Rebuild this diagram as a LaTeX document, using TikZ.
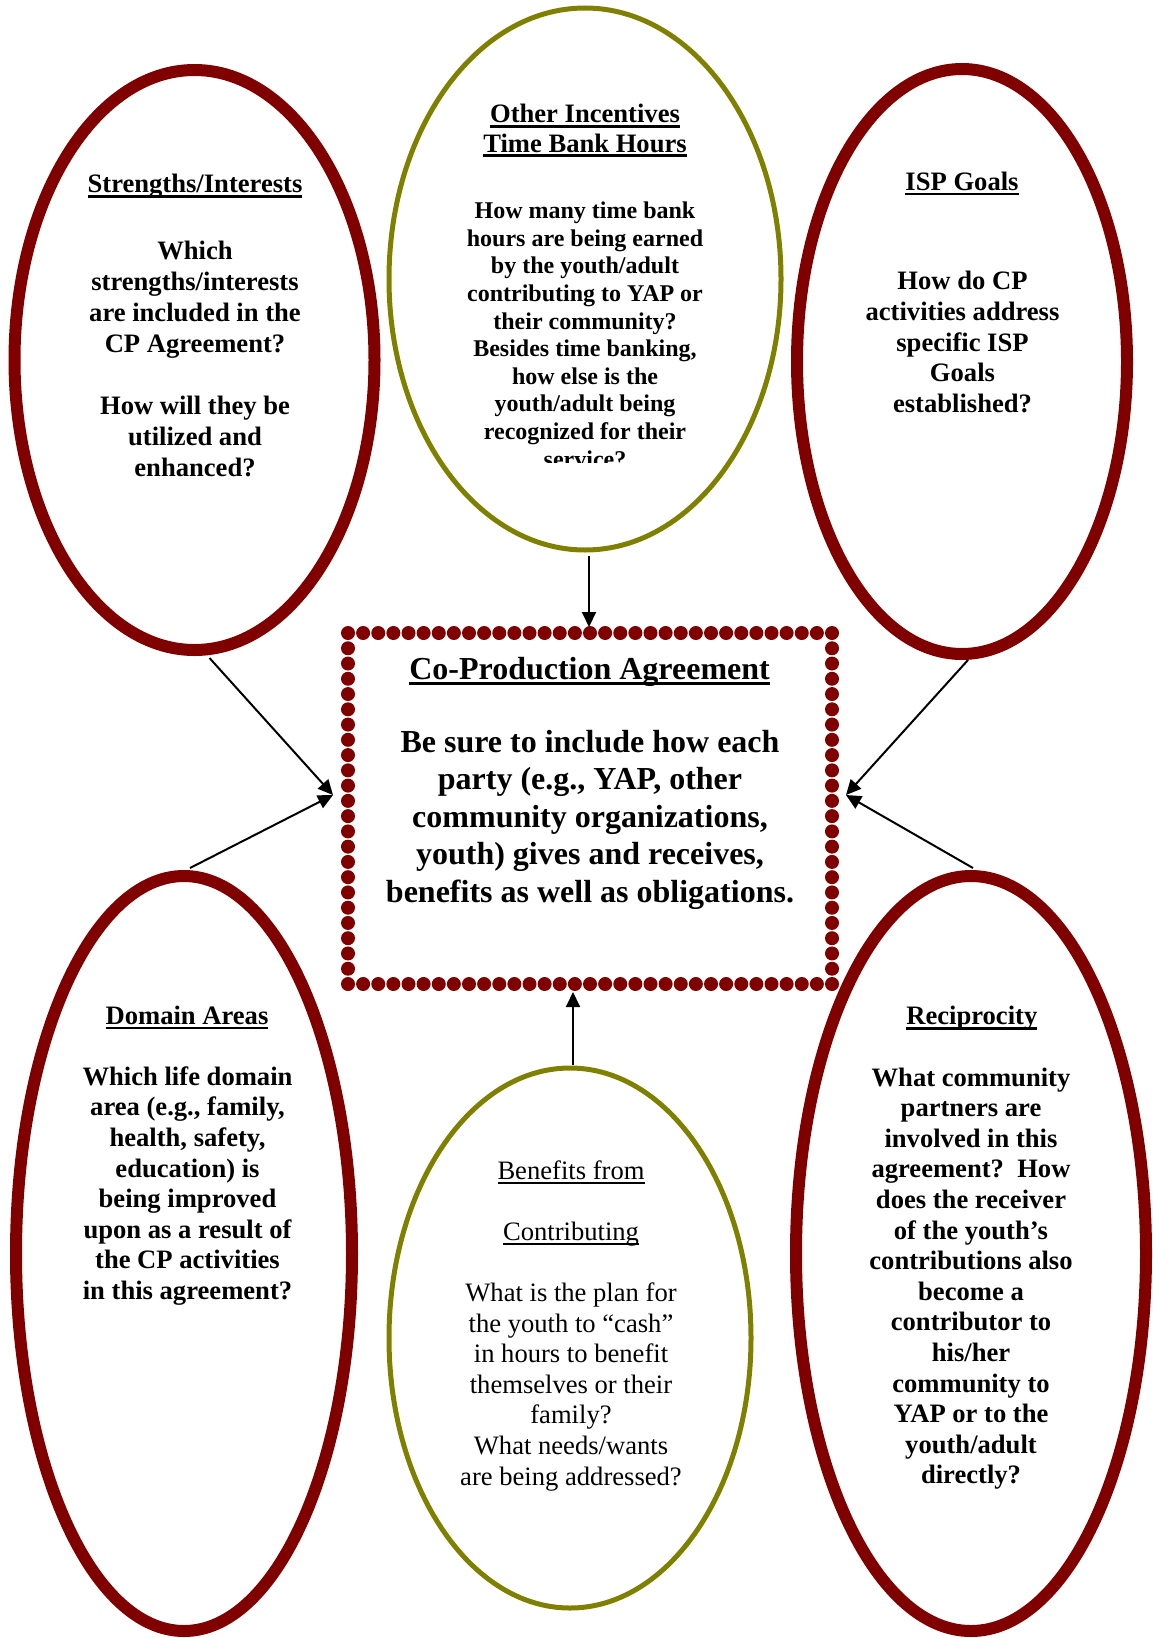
\documentclass[tikz,border=0pt]{standalone}
\usepackage{fontspec}
\setmainfont{Liberation Serif}
\usetikzlibrary{shapes.geometric,arrows.meta,calc}
\definecolor{maroon}{HTML}{800000}
\definecolor{olivegreen}{HTML}{808000}
\newsavebox\ulinebox
% underlines at a fixed depth below the baseline
\newcommand\ulbold[1]{\sbox\ulinebox{#1}\rlap{\rule[-0.19em]{\wd\ulinebox}{0.1em}}\usebox\ulinebox}
\newcommand\ulthin[1]{\sbox\ulinebox{#1}\rlap{\rule[-0.17em]{\wd\ulinebox}{0.06em}}\usebox\ulinebox}
\newcommand\mainsize{\fontsize{13.3pt}{15.3pt}\selectfont}
\newcommand\widesize{\fontsize{13.3pt}{15.45pt}\selectfont}
\newcommand\smallsize{\fontsize{12pt}{13.8pt}\selectfont}
\newcommand\bigsize{\fontsize{16pt}{18.75pt}\selectfont}
\tikzset{
  redring/.style={ellipse, draw=maroon, line width=6pt, inner sep=0pt, outer sep=0pt},
  olivering/.style={ellipse, draw=olivegreen, line width=2.5pt, inner sep=0pt, outer sep=0pt},
  textblock/.style={inner sep=0pt, outer sep=0pt, align=center, anchor=north},
  heading/.style={inner sep=0pt, outer sep=0pt, anchor=base, font=\bfseries\mainsize},
  link/.style={line width=1pt, -{Triangle[length=7.5pt,width=7pt]}},
  bead/.style={fill=maroon},
}
\begin{document}
\begin{tikzpicture}[x=0.5pt, y=-0.5pt]
\useasboundingbox (0,0) rectangle (1152,1638);

% outer rings
\node[redring, minimum width=180pt, minimum height=290pt] (s1) at (194.5,360) {};
\node[olivering, minimum width=196pt, minimum height=271pt] (oi) at (585,279) {};
\node[redring, minimum width=165pt, minimum height=292.5pt] (isp) at (962,361.5) {};
\node[redring, minimum width=168pt, minimum height=377.5pt] (dom) at (184,1253.5) {};
\node[olivering, minimum width=181pt, minimum height=270pt] (ben) at (570,1338) {};
\node[redring, minimum width=175pt, minimum height=377.5pt] (rec) at (971,1253.5) {};

% central agreement box with a beaded border
\node[minimum width=249pt, minimum height=182.5pt, inner sep=0pt, outer sep=0pt] (cpa) at (590,808.5) {};
\coordinate (dnw) at ($(cpa.north west)+(7,7)$);
\coordinate (dne) at ($(cpa.north east)+(-7,7)$);
\coordinate (dsw) at ($(cpa.south west)+(7,-7)$);
\coordinate (dse) at ($(cpa.south east)+(-7,-7)$);
\foreach \i in {0,...,32} {
  \fill[bead] ($(dnw)!\i/32!(dne)$) circle[radius=3.5pt];
  \fill[bead] ($(dsw)!\i/32!(dse)$) circle[radius=3.5pt];
}
\foreach \i in {1,...,22} {
  \fill[bead] ($(dnw)!\i/23!(dsw)$) circle[radius=3.5pt];
  \fill[bead] ($(dne)!\i/23!(dse)$) circle[radius=3.5pt];
}

% texts
\node[heading] (s1h) at (195,192.7) {\ulbold{Strengths/Interests}};
\node[textblock, font=\bfseries\widesize] (s1t) at (195,238.2) {\strut Which\\ strengths/interests\\ are included in the\\ CP Agreement?\\ \strut\\ How will they be\\ utilized and\\ enhanced?};

\node[textblock, font=\bfseries\fontsize{13.3pt}{14.65pt}\selectfont] (oih) at (585,102.2) {\strut\ulbold{Other Incentives}\\ \ulbold{Time Bank Hours}};
\begin{scope}
  \clip (380,0) rectangle (800,462);
  \node[textblock, font=\bfseries\smallsize] (oit) at (585,199.4) {\strut How many time bank\\ hours are being earned\\ by the youth/adult\\ contributing to YAP or\\ their community?\\ Besides time banking,\\ how else is the\\ youth/adult being\\ recognized for their\\ service?};
\end{scope}

\node[heading] (isph) at (962,190.3) {\ulbold{ISP Goals}};
\node[textblock, font=\bfseries\mainsize] (ispt) at (962.5,268.5) {\strut How do CP\\ activities address\\ specific ISP\\ Goals\\ established?};

\node[heading, font=\bfseries\bigsize] (cpah) at (589.6,679.3) {\ulbold{Co-Production Agreement}};
\node[textblock, font=\bfseries\bigsize] (cpat) at (590,726) {\strut Be sure to include how each\\ party (e.g., YAP, other\\ community organizations,\\ youth) gives and receives,\\ benefits as well as obligations.};

\node[heading] (domh) at (187,1024.3) {\ulbold{Domain Areas}};
\node[textblock, font=\bfseries\mainsize] (domt) at (187.5,1063.8) {\strut Which life domain\\ area (e.g., family,\\ health, safety,\\ education) is\\ being improved\\ upon as a result of\\ the CP activities\\ in this agreement?};

\node[textblock, font=\mainsize] (bent) at (571,1157.6) {\strut\ulthin{Benefits from}\\ \strut\\ \ulthin{Contributing}\\ \strut\\ What is the plan for\\ the youth to “cash”\\ in hours to benefit\\ themselves or their\\ family?\\ What needs/wants\\ are being addressed?};

\node[heading] (rech) at (971.8,1024.7) {\ulbold{Reciprocity}};
\node[textblock, font=\bfseries\mainsize] (rect) at (971,1064.6) {\strut What community\\ partners are\\ involved in this\\ agreement?\ \ How\\ does the receiver\\ of the youth’s\\ contributions also\\ become a\\ contributor to\\ his/her\\ community to\\ YAP or to the\\ youth/adult\\ directly?};

% connectors into the agreement box
\draw[link] ($(s1.south)+(15,8)$) -- ($(cpa.west)+(-8,-13.5)$);
\draw[link] ($(dom.north)+(6,-8)$) -- ($(cpa.west)+(-8,-13.5)$);
\draw[link] ($(oi.south)+(4,6)$) -- ($(cpa.north)+(-1,1)$);
\draw[link] ($(isp.south)+(6,6)$) -- ($(cpa.east)+(7,-13.5)$);
\draw[link] ($(rec.north)+(2,-8)$) -- ($(cpa.east)+(7,-13.5)$);
\draw[link] ($(ben.north)+(3,-3)$) -- ($(cpa.south)+(-17,1)$);
\end{tikzpicture}
\end{document}
